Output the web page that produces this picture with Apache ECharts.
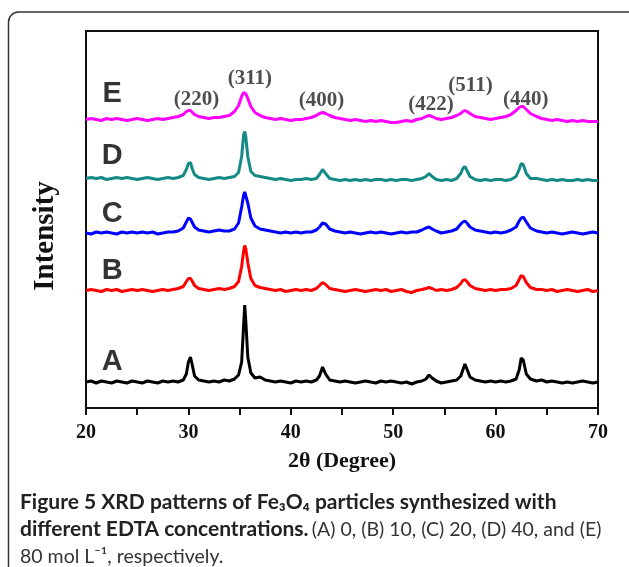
<!DOCTYPE html>
<html>
<head>
<meta charset="utf-8">
<title>XRD patterns of Fe3O4</title>
<script src="https://cdn.jsdelivr.net/npm/echarts@6/dist/echarts.min.js"></script>
<style>
  html, body { margin: 0; padding: 0; background: #fff; }
  #chart { width: 629px; height: 567px; }
</style>
</head>
<body>
<div id="chart"></div>
<script>
// 2θ grid (denser around the reflections)
const twoTheta = [20, 20.5, 21, 21.5, 22, 22.5, 23, 23.5, 24, 24.5, 25, 25.5, 26, 26.5, 27, 27.5, 28, 28.5, 29,
  29.5, 29.8, 30.0, 30.2, 30.4, 30.6, 31.0, 31.5,
  32, 32.5, 33, 33.5, 34, 34.5,
  34.9, 35.2, 35.4, 35.5, 35.6, 35.8, 36.1, 36.5,
  37, 37.5, 38, 38.5, 39, 39.5, 40, 40.5, 41, 41.5, 42, 42.5,
  42.8, 43.1, 43.4, 43.8,
  44.3, 44.8, 45.3, 45.8, 46.3, 46.8, 47.3, 47.8, 48.3, 48.8, 49.3, 49.8, 50.3, 50.8, 51.3, 51.8, 52.3, 52.8,
  53.2, 53.5, 53.8, 54.2, 54.7, 55.2, 55.7, 56.2,
  56.6, 56.8, 57.0, 57.2, 57.5, 58.0, 58.5, 59.0, 59.5, 60.0, 60.5, 61.0, 61.5, 62.0,
  62.3, 62.5, 62.7, 63.0, 63.4, 64.0,
  64.5, 65.0, 65.5, 66.0, 66.5, 67.0, 67.5, 68.0, 68.5, 69.0, 69.5, 70];

// intensities (a.u.) for each sample, same order as twoTheta
const intensityA = [0, 1, -1, 1, 0, -1, 1, 0, -1, 1, 0, -1, 1, 0, -1, 1, 0, 1, 0,
  2, 8, 20, 25, 16, 6, 2, 1,
  0, 1, 0, 2, 1, 3,
  7, 20, 58, 77, 62, 25, 9, 4,
  5, 2, 1, 0, 1, 0, -1, 1, 0, 1, 0, 2,
  6, 15, 8, 2,
  1, 0, 1, 0, -1, 0, 1, 0, -1, 1, 0, 1, 0, -1, 0, -2, 0, 1,
  3, 7, 4, 1, -1, 0, 1, 2,
  6, 12, 18, 13, 5, 2, 1, 0, 1, 0, 1, 0, 1, 3,
  12, 24, 22, 8, 3, 1,
  2, 0, 1, 0, -1, 0, -1, 0, 1, 0, -1, 0];

const intensityB = [0, 1, 0, -1, 1, 0, 1, -1, 0, 1, 0, 1, 0, -1, 0, 1, 0, 1, 2,
  4, 9, 12, 12, 9, 5, 2, 1,
  0, 1, 2, 1, 2, 4,
  9, 24, 40, 45, 42, 28, 12, 5,
  3, 2, 1, 0, 1, -1, 0, 1, 0, 1, 0, 2,
  5, 8, 6, 2,
  1, 0, -1, 0, 1, 0, -1, 0, 1, 0, 1, -1, 0, 1, -1, -2, 0, 1,
  2, 3, 2, 0, 1, 0, 1, 3,
  7, 10, 11, 9, 5, 2, 1, 0, 1, 0, 1, 1, 2, 5,
  11, 15, 14, 8, 3, 1,
  1, 0, 1, -1, 0, 1, 0, -1, 0, 1, -1, 0];

const intensityC = [0, -1, 1, 0, 1, 0, -1, 1, 0, 1, 0, 1, 0, 1, -1, 0, 1, 1, 2,
  5, 11, 15, 14, 10, 6, 3, 2,
  1, 2, 3, 2, 2, 4,
  10, 26, 38, 41, 40, 30, 15, 7,
  4, 3, 2, 1, 0, 1, 0, 1, 0, 1, 1, 3,
  6, 10, 9, 4,
  2, 1, 0, 1, 0, -1, 0, 1, 0, 1, 0, -1, 0, 1, 0, 1, 1, 3,
  5, 6, 4, 2, 0, 1, 2, 4,
  9, 11, 12, 10, 6, 3, 2, 1, 0, 1, 0, 1, 3, 6,
  12, 15, 16, 11, 5, 2,
  1, 0, 1, 0, -1, 0, 1, 0, -1, 0, 1, 0];

const intensityD = [0, 1, 0, 1, -1, 0, 1, 0, 1, 0, -1, 0, 1, 0, -1, 0, 1, 0, 1,
  3, 9, 15, 16, 9, 4, 1, 0,
  -1, 0, 1, 0, 1, 2,
  6, 22, 44, 47, 42, 22, 7, 3,
  2, 1, 0, -1, 0, -1, -2, -1, -1, 0, -1, 0,
  4, 9, 5, 0,
  -1, -2, -1, -2, -1, -2, -1, -2, -1, -1, -2, -1, -2, -1, -1, -2, -1, 0,
  2, 5, 2, -1, -2, -1, -2, 0,
  5, 10, 12, 8, 2, -1, -2, -1, -2, -1, -1, -2, -1, 2,
  9, 15, 14, 5, 0, 0,
  -1, -2, -1, -2, -1, -2, -2, -1, -2, -1, -2, -2];

const intensityE = [0, 1, 0, -1, 1, 0, 1, 0, -1, 0, 1, 0, -1, 0, 1, 0, 1, 2, 3,
  5, 8, 9, 9, 7, 5, 3, 2,
  1, 2, 2, 3, 4, 8,
  14, 23, 27, 27, 26, 21, 13, 7,
  4, 2, 1, 0, 1, 0, -1, 0, 0, 1, 2, 4,
  6, 7, 6, 4,
  2, 1, 0, -1, 0, -1, -2, -1, -2, -1, -2, -3, -3, -2, -1, -2, 0, 1,
  3, 4, 3, 1, 0, 1, 2, 4,
  6, 8, 9, 8, 6, 3, 2, 1, 0, 1, 2, 3, 5, 9,
  12, 13, 13, 10, 6, 3,
  1, 0, -1, 0, -1, -2, -1, -2, -1, -2, -2, -2];

const sampleNames = ['A', 'B', 'C', 'D', 'E'];
const sampleOffsets = [26, 117.5, 175, 229.5, 288.5];
const sampleLabelLift = [20, 19.5, 19, 22.5, 25.5];

// Miller indices marked above pattern E
const hklLabels = ['(220)', '(311)', '(400)', '(422)', '(511)', '(440)'];
const hklAngles = [30.8, 36.0, 43.0, 53.7, 57.55, 62.95];
const hklHeights = [308, 329, 307.5, 303, 322, 308];

const xTicks = [20, 30, 40, 50, 60, 70];

const colors = ['#000000', '#ff0000', '#0000ff', '#158a85', '#ff00ff'];
const intensities = [intensityA, intensityB, intensityC, intensityD, intensityE];

const chart = echarts.init(document.getElementById('chart'));

const lineSeries = sampleNames.map(function (name, i) {
  return {
    name: name,
    type: 'line',
    showSymbol: false,
    symbol: 'none',
    silent: true,
    z: 5 - i,
    lineStyle: { color: colors[i], width: 3 },
    data: twoTheta.map(function (t, k) {
      return [t, intensities[i][k] + sampleOffsets[i]];
    })
  };
});

const serif = 'Liberation Serif';

chart.setOption({
  animation: false,
  grid: {
    left: 86,
    right: 31,
    top: 31,
    bottom: 159,
    show: true,
    borderColor: '#111',
    borderWidth: 2
  },
  xAxis: {
    type: 'value',
    min: 20,
    max: 70,
    interval: 5,
    name: '2θ (Degree)',
    nameLocation: 'middle',
    nameGap: 42,
    nameTextStyle: { fontFamily: serif, fontWeight: 'bold', fontSize: 22, color: '#111' },
    axisLine: { lineStyle: { color: '#111', width: 2 } },
    axisTick: { inside: false, length: 7, lineStyle: { color: '#111', width: 2 } },
    splitLine: { show: false },
    axisLabel: {
      fontFamily: serif,
      fontWeight: 'bold',
      fontSize: 20,
      color: '#111',
      margin: 15,
      formatter: function (v) {
        return xTicks.indexOf(v) >= 0 ? String(v) : '';
      }
    }
  },
  yAxis: {
    type: 'value',
    min: 0,
    max: 377,
    show: false
  },
  graphic: [
    {
      type: 'rect',
      silent: true,
      shape: { x: 8.5, y: 12, width: 660, height: 620, r: 10 },
      style: { fill: 'none', stroke: '#333', lineWidth: 1.5 },
      z: -1
    },
    {
      type: 'text',
      silent: true,
      x: 46,
      y: 236,
      rotation: Math.PI / 2,
      style: {
        text: 'Intensity',
        fontFamily: serif,
        fontWeight: 'bold',
        fontSize: 29,
        fill: '#111',
        align: 'center',
        verticalAlign: 'middle'
      }
    },
    {
      type: 'text',
      silent: true,
      left: 20,
      top: 489,
      style: {
        text: '{b|Figure 5 XRD patterns of Fe₃O₄ particles synthesized with}\n' +
          '{b|different EDTA concentrations.} {n|(A) 0, (B) 10, (C) 20, (D) 40, and (E)}\n' +
          '{n|80 mol L⁻¹, respectively.}',
        fill: '#222',
        lineHeight: 27,
        rich: {
          b: { fontFamily: 'Lato', fontWeight: 'bold', fontSize: 21, fill: '#222', lineHeight: 27 },
          n: { fontFamily: 'Lato', fontWeight: 'normal', fontSize: 19.5, fill: '#333', lineHeight: 27 }
        }
      }
    }
  ],
  series: lineSeries.concat([
    {
      name: 'samples',
      type: 'scatter',
      silent: true,
      symbolSize: 0,
      z: 10,
      label: {
        show: true,
        position: 'inside',
        formatter: '{b}',
        fontFamily: 'Liberation Sans',
        fontWeight: 'bold',
        fontSize: 29,
        color: '#000'
      },
      data: sampleNames.map(function (n, i) {
        return { name: n, value: [22.55, sampleOffsets[i] + sampleLabelLift[i]] };
      })
    },
    {
      name: 'hkl',
      type: 'scatter',
      silent: true,
      symbolSize: 0,
      z: 10,
      label: {
        show: true,
        position: 'inside',
        formatter: '{b}',
        fontFamily: serif,
        fontWeight: 'bold',
        fontSize: 21,
        color: '#222'
      },
      data: hklLabels.map(function (h, i) {
        return { name: h, value: [hklAngles[i], hklHeights[i]] };
      })
    }
  ])
});
</script>
</body>
</html>
